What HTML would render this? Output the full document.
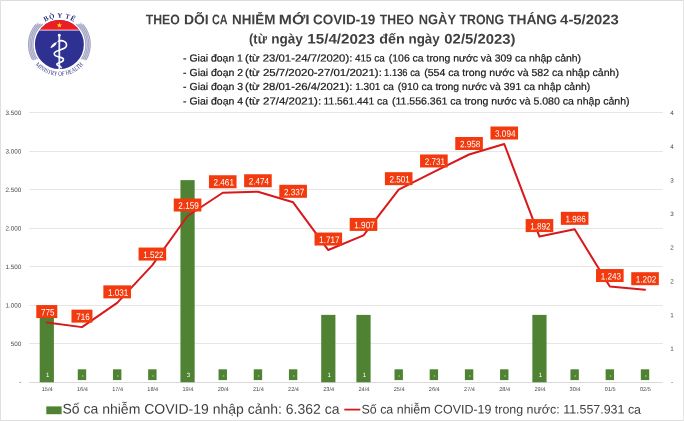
<!DOCTYPE html>
<html lang="vi"><head><meta charset="utf-8"><title>COVID-19</title>
<style>
html,body{margin:0;padding:0;background:#fff}
body{width:684px;height:421px;overflow:hidden}
svg{display:block;font-family:"Liberation Sans",sans-serif;text-rendering:geometricPrecision}
.t{font-weight:bold;fill:#404040;font-size:13.8px}
.s{fill:#1a1a1a;font-size:10.2px;stroke:#1a1a1a;stroke-width:0.22px}
.ax{fill:#4a4a4a;font-size:6.3px}
.cat{fill:#484848;font-size:5.6px;text-anchor:middle}
.dl{fill:#fff;font-size:9.3px}
.bl{fill:#fff;font-size:6.1px;text-anchor:middle}
.lg{fill:#404040}
.logo{font-family:"Liberation Serif",serif;fill:#2a2c7c;font-weight:bold}
</style></head><body>
<svg width="684" height="421" viewBox="0 0 684 421">
<rect x="0" y="0" width="684" height="421" fill="#fff"/>
<rect x="0" y="0" width="684" height="1" fill="#dcdcdc"/><rect x="0" y="420" width="684" height="1" fill="#dedede"/><rect x="0" y="0" width="1" height="421" fill="#e0e0e0"/><rect x="683" y="0" width="1" height="421" fill="#e6e6e6"/>

<g class="t">
<text x="145.69" y="24.3" textLength="34.13" lengthAdjust="spacingAndGlyphs" transform="rotate(0.05 145.69 24.3)">THEO</text>
<text x="184.02" y="24.3" textLength="24.69" lengthAdjust="spacingAndGlyphs" transform="rotate(0.05 184.02 24.3)">DÕI</text>
<text x="212.01" y="24.3" textLength="15.63" lengthAdjust="spacingAndGlyphs" transform="rotate(0.05 212.01 24.3)">CA</text>
<text x="232.05" y="24.3" textLength="43.29" lengthAdjust="spacingAndGlyphs" transform="rotate(0.05 232.05 24.3)">NHIỄM</text>
<text x="278.8" y="24.3" textLength="30.91" lengthAdjust="spacingAndGlyphs" transform="rotate(0.05 278.8 24.3)">MỚI</text>
<text x="313.09" y="24.3" textLength="62.22" lengthAdjust="spacingAndGlyphs" transform="rotate(0.05 313.09 24.3)">COVID-19</text>
<text x="379.79" y="24.3" textLength="34.13" lengthAdjust="spacingAndGlyphs" transform="rotate(0.05 379.79 24.3)">THEO</text>
<text x="418.68" y="24.3" textLength="37.36" lengthAdjust="spacingAndGlyphs" transform="rotate(0.05 418.68 24.3)">NGÀY</text>
<text x="459.49" y="24.3" textLength="44.65" lengthAdjust="spacingAndGlyphs" transform="rotate(0.05 459.49 24.3)">TRONG</text>
<text x="507.97" y="24.3" textLength="49.14" lengthAdjust="spacingAndGlyphs" transform="rotate(0.05 507.97 24.3)">THÁNG</text>
<text x="560.13" y="24.3" textLength="58.68" lengthAdjust="spacingAndGlyphs" transform="rotate(0.05 560.13 24.3)">4-5/2023</text>
</g>
<g class="t">
<text x="249.1" y="43.6" textLength="17.85" lengthAdjust="spacingAndGlyphs" transform="rotate(0.05 249.1 43.6)">(từ</text>
<text x="271.14" y="43.6" textLength="31.64" lengthAdjust="spacingAndGlyphs" transform="rotate(0.05 271.14 43.6)">ngày</text>
<text x="307.34" y="43.6" textLength="67.53" lengthAdjust="spacingAndGlyphs" transform="rotate(0.05 307.34 43.6)">15/4/2023</text>
<text x="379.35" y="43.6" textLength="25.49" lengthAdjust="spacingAndGlyphs" transform="rotate(0.05 379.35 43.6)">đến</text>
<text x="408.45" y="43.6" textLength="31.33" lengthAdjust="spacingAndGlyphs" transform="rotate(0.05 408.45 43.6)">ngày</text>
<text x="444.36" y="43.6" textLength="71.03" lengthAdjust="spacingAndGlyphs" transform="rotate(0.05 444.36 43.6)">02/5/2023)</text>
</g>
<g class="s">
<text x="183.09" y="61.4" textLength="59.85" lengthAdjust="spacingAndGlyphs" transform="rotate(0.05 183.09 61.4)">- Giai đoạn 1</text>
<text x="245.11" y="61.4" textLength="107.21" lengthAdjust="spacingAndGlyphs" transform="rotate(0.05 245.11 61.4)">(từ 23/01-24/7/2020):</text>
<text x="355.06" y="61.4" textLength="29.74" lengthAdjust="spacingAndGlyphs" transform="rotate(0.05 355.06 61.4)">415 ca</text>
<text x="388.86" y="61.4" textLength="192.21" lengthAdjust="spacingAndGlyphs" transform="rotate(0.05 388.86 61.4)">(106 ca trong nước và 309 ca nhập cảnh)</text>
<text x="183.09" y="75.9" textLength="60.05" lengthAdjust="spacingAndGlyphs" transform="rotate(0.05 183.09 75.9)">- Giai đoạn 2</text>
<text x="245.1" y="75.9" textLength="136.75" lengthAdjust="spacingAndGlyphs" transform="rotate(0.05 245.1 75.9)">(từ 25/7/2020-27/01/2021):</text>
<text x="384.11" y="75.9" textLength="35.99" lengthAdjust="spacingAndGlyphs" transform="rotate(0.05 384.11 75.9)">1.136 ca</text>
<text x="424.15" y="75.9" textLength="194.82" lengthAdjust="spacingAndGlyphs" transform="rotate(0.05 424.15 75.9)">(554 ca trong nước và 582 ca nhập cảnh)</text>
<text x="183.09" y="89.9" textLength="60.05" lengthAdjust="spacingAndGlyphs" transform="rotate(0.05 183.09 89.9)">- Giai đoạn 3</text>
<text x="245.11" y="89.9" textLength="107.21" lengthAdjust="spacingAndGlyphs" transform="rotate(0.05 245.11 89.9)">(từ 28/01-26/4/2021):</text>
<text x="355.16" y="89.9" textLength="38.64" lengthAdjust="spacingAndGlyphs" transform="rotate(0.05 355.16 89.9)">1.301 ca</text>
<text x="397.66" y="89.9" textLength="192.61" lengthAdjust="spacingAndGlyphs" transform="rotate(0.05 397.66 89.9)">(910 ca trong nước và 391 ca nhập cảnh)</text>
<text x="183.09" y="104.4" textLength="59.99" lengthAdjust="spacingAndGlyphs" transform="rotate(0.05 183.09 104.4)">- Giai đoạn 4</text>
<text x="245.1" y="104.4" textLength="76.03" lengthAdjust="spacingAndGlyphs" transform="rotate(0.05 245.1 104.4)">(từ 27/4/2021):</text>
<text x="323.44" y="104.4" textLength="64.58" lengthAdjust="spacingAndGlyphs" transform="rotate(0.05 323.44 104.4)">11.561.441 ca</text>
<text x="391.95" y="104.4" textLength="237.65" lengthAdjust="spacingAndGlyphs" transform="rotate(0.05 391.95 104.4)">(11.556.361 ca trong nước và 5.080 ca nhập cảnh)</text>
</g>
<line x1="29.2" x2="662.8" y1="112.50" y2="112.50" stroke="#e6e6e6" stroke-width="1"/>
<line x1="29.2" x2="662.8" y1="151.50" y2="151.50" stroke="#e6e6e6" stroke-width="1"/>
<line x1="29.2" x2="662.8" y1="189.50" y2="189.50" stroke="#e6e6e6" stroke-width="1"/>
<line x1="29.2" x2="662.8" y1="228.50" y2="228.50" stroke="#e6e6e6" stroke-width="1"/>
<line x1="29.2" x2="662.8" y1="266.50" y2="266.50" stroke="#e6e6e6" stroke-width="1"/>
<line x1="29.2" x2="662.8" y1="305.50" y2="305.50" stroke="#e6e6e6" stroke-width="1"/>
<line x1="29.2" x2="662.8" y1="343.50" y2="343.50" stroke="#e6e6e6" stroke-width="1"/>
<line x1="29.2" x2="662.8" y1="382.50" y2="382.50" stroke="#d9d9d9" stroke-width="1"/>
<text class="ax" x="21.3" y="115.05" text-anchor="end" transform="rotate(0.05 21.3 115.05)">3.500</text>
<text class="ax" x="21.3" y="153.55" text-anchor="end" transform="rotate(0.05 21.3 153.55)">3.000</text>
<text class="ax" x="21.3" y="192.05" text-anchor="end" transform="rotate(0.05 21.3 192.05)">2.500</text>
<text class="ax" x="21.3" y="230.55" text-anchor="end" transform="rotate(0.05 21.3 230.55)">2.000</text>
<text class="ax" x="21.3" y="269.05" text-anchor="end" transform="rotate(0.05 21.3 269.05)">1.500</text>
<text class="ax" x="21.3" y="307.55" text-anchor="end" transform="rotate(0.05 21.3 307.55)">1.000</text>
<text class="ax" x="21.3" y="346.05" text-anchor="end" transform="rotate(0.05 21.3 346.05)">500</text>
<text class="ax" x="21.3" y="384.55" text-anchor="end" transform="rotate(0.05 21.3 384.55)">-</text>
<text class="ax" x="672" y="115.05" text-anchor="middle" transform="rotate(0.05 672 115.05)">4</text>
<text class="ax" x="672" y="148.74" text-anchor="middle" transform="rotate(0.05 672 148.74)">4</text>
<text class="ax" x="672" y="182.43" text-anchor="middle" transform="rotate(0.05 672 182.43)">3</text>
<text class="ax" x="672" y="216.11" text-anchor="middle" transform="rotate(0.05 672 216.11)">3</text>
<text class="ax" x="672" y="249.80" text-anchor="middle" transform="rotate(0.05 672 249.80)">2</text>
<text class="ax" x="672" y="283.49" text-anchor="middle" transform="rotate(0.05 672 283.49)">2</text>
<text class="ax" x="672" y="317.18" text-anchor="middle" transform="rotate(0.05 672 317.18)">1</text>
<text class="ax" x="672" y="350.86" text-anchor="middle" transform="rotate(0.05 672 350.86)">1</text>
<text class="ax" x="672" y="384.55" text-anchor="middle" transform="rotate(0.05 672 384.55)">-</text>
<rect x="39.70" y="314.88" width="14.2" height="67.38" fill="#4f8232"/>
<text class="bl" x="47.70" y="377.1" transform="rotate(0.05 47.70 377.1)">1</text>
<rect x="77.78" y="369.3" width="8.4" height="10.8" fill="#4f8232"/>
<text class="bl" x="82.69" y="377.4" transform="rotate(0.05 82.69 377.4)">-</text>
<rect x="112.97" y="369.3" width="8.4" height="10.8" fill="#4f8232"/>
<text class="bl" x="117.88" y="377.4" transform="rotate(0.05 117.88 377.4)">-</text>
<rect x="148.16" y="369.3" width="8.4" height="10.8" fill="#4f8232"/>
<text class="bl" x="153.06" y="377.4" transform="rotate(0.05 153.06 377.4)">-</text>
<rect x="180.45" y="180.12" width="14.2" height="202.12" fill="#4f8232"/>
<text class="bl" x="188.45" y="377.1" transform="rotate(0.05 188.45 377.1)">3</text>
<rect x="218.54" y="369.3" width="8.4" height="10.8" fill="#4f8232"/>
<text class="bl" x="223.44" y="377.4" transform="rotate(0.05 223.44 377.4)">-</text>
<rect x="253.74" y="369.3" width="8.4" height="10.8" fill="#4f8232"/>
<text class="bl" x="258.63" y="377.4" transform="rotate(0.05 258.63 377.4)">-</text>
<rect x="288.92" y="369.3" width="8.4" height="10.8" fill="#4f8232"/>
<text class="bl" x="293.82" y="377.4" transform="rotate(0.05 293.82 377.4)">-</text>
<rect x="321.21" y="314.88" width="14.2" height="67.38" fill="#4f8232"/>
<text class="bl" x="329.21" y="377.1" transform="rotate(0.05 329.21 377.1)">1</text>
<rect x="356.40" y="314.88" width="14.2" height="67.38" fill="#4f8232"/>
<text class="bl" x="364.40" y="377.1" transform="rotate(0.05 364.40 377.1)">1</text>
<rect x="394.50" y="369.3" width="8.4" height="10.8" fill="#4f8232"/>
<text class="bl" x="399.39" y="377.4" transform="rotate(0.05 399.39 377.4)">-</text>
<rect x="429.68" y="369.3" width="8.4" height="10.8" fill="#4f8232"/>
<text class="bl" x="434.58" y="377.4" transform="rotate(0.05 434.58 377.4)">-</text>
<rect x="464.88" y="369.3" width="8.4" height="10.8" fill="#4f8232"/>
<text class="bl" x="469.77" y="377.4" transform="rotate(0.05 469.77 377.4)">-</text>
<rect x="500.06" y="369.3" width="8.4" height="10.8" fill="#4f8232"/>
<text class="bl" x="504.96" y="377.4" transform="rotate(0.05 504.96 377.4)">-</text>
<rect x="532.36" y="314.88" width="14.2" height="67.38" fill="#4f8232"/>
<text class="bl" x="540.36" y="377.1" transform="rotate(0.05 540.36 377.1)">1</text>
<rect x="570.44" y="369.3" width="8.4" height="10.8" fill="#4f8232"/>
<text class="bl" x="575.35" y="377.4" transform="rotate(0.05 575.35 377.4)">-</text>
<rect x="605.63" y="369.3" width="8.4" height="10.8" fill="#4f8232"/>
<text class="bl" x="610.54" y="377.4" transform="rotate(0.05 610.54 377.4)">-</text>
<rect x="640.82" y="369.3" width="8.4" height="10.8" fill="#4f8232"/>
<text class="bl" x="645.73" y="377.4" transform="rotate(0.05 645.73 377.4)">-</text>
<text class="cat" x="47.20" y="391" transform="rotate(0.05 47.20 391)">15/4</text>
<text class="cat" x="82.39" y="391" transform="rotate(0.05 82.39 391)">16/4</text>
<text class="cat" x="117.58" y="391" transform="rotate(0.05 117.58 391)">17/4</text>
<text class="cat" x="152.76" y="391" transform="rotate(0.05 152.76 391)">18/4</text>
<text class="cat" x="187.95" y="391" transform="rotate(0.05 187.95 391)">19/4</text>
<text class="cat" x="223.14" y="391" transform="rotate(0.05 223.14 391)">20/4</text>
<text class="cat" x="258.33" y="391" transform="rotate(0.05 258.33 391)">21/4</text>
<text class="cat" x="293.52" y="391" transform="rotate(0.05 293.52 391)">22/4</text>
<text class="cat" x="328.71" y="391" transform="rotate(0.05 328.71 391)">23/4</text>
<text class="cat" x="363.90" y="391" transform="rotate(0.05 363.90 391)">24/4</text>
<text class="cat" x="399.09" y="391" transform="rotate(0.05 399.09 391)">25/4</text>
<text class="cat" x="434.28" y="391" transform="rotate(0.05 434.28 391)">26/4</text>
<text class="cat" x="469.47" y="391" transform="rotate(0.05 469.47 391)">27/4</text>
<text class="cat" x="504.66" y="391" transform="rotate(0.05 504.66 391)">28/4</text>
<text class="cat" x="539.86" y="391" transform="rotate(0.05 539.86 391)">29/4</text>
<text class="cat" x="575.04" y="391" transform="rotate(0.05 575.04 391)">30/4</text>
<text class="cat" x="610.24" y="391" transform="rotate(0.05 610.24 391)">01/5</text>
<text class="cat" x="645.42" y="391" transform="rotate(0.05 645.42 391)">02/5</text>
<polyline points="46.80,322.57 81.98,327.12 117.17,302.86 152.36,265.06 187.55,216.01 222.74,192.75 257.94,191.75 293.12,202.30 328.31,250.04 363.50,235.41 398.69,189.67 433.88,171.96 469.07,154.48 504.26,144.01 539.46,236.57 574.64,229.33 609.84,286.54 645.02,289.70" fill="none" stroke="#d8181b" stroke-width="2" stroke-linejoin="round" stroke-linecap="round"/>
<rect x="36.30" y="305.07" width="21" height="13" fill="#f23a0e"/>
<text class="dl" x="41.09" y="315.43" textLength="13.4" lengthAdjust="spacingAndGlyphs" transform="rotate(0.05 41.09 315.43)">775</text>
<rect x="71.48" y="309.62" width="21" height="13" fill="#f23a0e"/>
<text class="dl" x="76.28" y="319.97" textLength="13.4" lengthAdjust="spacingAndGlyphs" transform="rotate(0.05 76.28 319.97)">716</text>
<rect x="103.38" y="285.36" width="27.6" height="13" fill="#f23a0e"/>
<text class="dl" x="107.97" y="295.71" textLength="20.4" lengthAdjust="spacingAndGlyphs" transform="rotate(0.05 107.97 295.71)">1.031</text>
<rect x="138.56" y="247.56" width="27.6" height="13" fill="#f23a0e"/>
<text class="dl" x="143.16" y="257.91" textLength="20.4" lengthAdjust="spacingAndGlyphs" transform="rotate(0.05 143.16 257.91)">1.522</text>
<rect x="173.75" y="198.51" width="27.6" height="13" fill="#f23a0e"/>
<text class="dl" x="178.35" y="208.86" textLength="20.4" lengthAdjust="spacingAndGlyphs" transform="rotate(0.05 178.35 208.86)">2.159</text>
<rect x="208.94" y="175.25" width="27.6" height="13" fill="#f23a0e"/>
<text class="dl" x="213.54" y="185.60" textLength="20.4" lengthAdjust="spacingAndGlyphs" transform="rotate(0.05 213.54 185.60)">2.461</text>
<rect x="244.13" y="174.25" width="27.6" height="13" fill="#f23a0e"/>
<text class="dl" x="248.74" y="184.60" textLength="20.4" lengthAdjust="spacingAndGlyphs" transform="rotate(0.05 248.74 184.60)">2.474</text>
<rect x="279.32" y="184.80" width="27.6" height="13" fill="#f23a0e"/>
<text class="dl" x="283.92" y="195.15" textLength="20.4" lengthAdjust="spacingAndGlyphs" transform="rotate(0.05 283.92 195.15)">2.337</text>
<rect x="314.51" y="232.54" width="27.6" height="13" fill="#f23a0e"/>
<text class="dl" x="319.12" y="242.89" textLength="20.4" lengthAdjust="spacingAndGlyphs" transform="rotate(0.05 319.12 242.89)">1.717</text>
<rect x="349.70" y="217.91" width="27.6" height="13" fill="#f23a0e"/>
<text class="dl" x="354.30" y="228.26" textLength="20.4" lengthAdjust="spacingAndGlyphs" transform="rotate(0.05 354.30 228.26)">1.907</text>
<rect x="384.89" y="172.17" width="27.6" height="13" fill="#f23a0e"/>
<text class="dl" x="389.50" y="182.52" textLength="20.4" lengthAdjust="spacingAndGlyphs" transform="rotate(0.05 389.50 182.52)">2.501</text>
<rect x="420.08" y="154.46" width="27.6" height="13" fill="#f23a0e"/>
<text class="dl" x="424.68" y="164.81" textLength="20.4" lengthAdjust="spacingAndGlyphs" transform="rotate(0.05 424.68 164.81)">2.731</text>
<rect x="455.27" y="136.98" width="27.6" height="13" fill="#f23a0e"/>
<text class="dl" x="459.88" y="147.33" textLength="20.4" lengthAdjust="spacingAndGlyphs" transform="rotate(0.05 459.88 147.33)">2.958</text>
<rect x="490.46" y="126.51" width="27.6" height="13" fill="#f23a0e"/>
<text class="dl" x="495.06" y="136.86" textLength="20.4" lengthAdjust="spacingAndGlyphs" transform="rotate(0.05 495.06 136.86)">3.094</text>
<rect x="525.66" y="219.07" width="27.6" height="13" fill="#f23a0e"/>
<text class="dl" x="530.25" y="229.42" textLength="20.4" lengthAdjust="spacingAndGlyphs" transform="rotate(0.05 530.25 229.42)">1.892</text>
<rect x="560.85" y="211.83" width="27.6" height="13" fill="#f23a0e"/>
<text class="dl" x="565.44" y="222.18" textLength="20.4" lengthAdjust="spacingAndGlyphs" transform="rotate(0.05 565.44 222.18)">1.986</text>
<rect x="596.04" y="269.04" width="27.6" height="13" fill="#f23a0e"/>
<text class="dl" x="600.63" y="279.39" textLength="20.4" lengthAdjust="spacingAndGlyphs" transform="rotate(0.05 600.63 279.39)">1.243</text>
<rect x="631.23" y="272.20" width="27.6" height="13" fill="#f23a0e"/>
<text class="dl" x="635.82" y="282.55" textLength="20.4" lengthAdjust="spacingAndGlyphs" transform="rotate(0.05 635.82 282.55)">1.202</text>
<rect x="46.3" y="406.4" width="15.3" height="7.8" fill="#4f8232"/>
<text class="lg" font-size="13.9" x="62.47" y="413.6" textLength="277.07" lengthAdjust="spacingAndGlyphs" transform="rotate(0.05 62.47 413.6)">Số ca nhiễm COVID-19 nhập cảnh: 6.362 ca</text>
<line x1="344.3" x2="360.3" y1="409.6" y2="409.6" stroke="#d8181b" stroke-width="1.8"/>
<text class="lg" font-size="12.45" x="361.48" y="413.4" textLength="279.57" lengthAdjust="spacingAndGlyphs" transform="rotate(0.05 361.48 413.4)">Số ca nhiễm COVID-19 trong nước: 11.557.931 ca</text>
<g id="logo"><defs><clipPath id="dc"><circle cx="59.4" cy="44.5" r="24.5"/></clipPath>
<path id="tp" d="M 32.599999999999994 44.5 A 26.8 26.8 0 0 1 86.2 44.5"/>
<path id="bp" d="M 28.099999999999998 44.5 A 31.3 31.3 0 0 0 90.7 44.5"/></defs>
<path d="M 39.50 23.89 A 28.65 28.65 0 0 0 35.10 59.68" fill="none" stroke="#d9d9e8" stroke-width="5"/>
<path d="M 79.30 23.89 A 28.65 28.65 0 0 1 83.70 59.68" fill="none" stroke="#d9d9e8" stroke-width="5"/>
<path d="M 42.79 23.98 A 26.4 26.4 0 0 0 37.51 59.26" fill="none" stroke="#a3a4c4" stroke-width="1.05"/>
<path d="M 76.01 23.98 A 26.4 26.4 0 0 1 81.29 59.26" fill="none" stroke="#a3a4c4" stroke-width="1.05"/>
<path d="M 40.55 23.93 A 27.9 27.9 0 0 0 35.87 59.49" fill="none" stroke="#a3a4c4" stroke-width="1.05"/>
<path d="M 78.25 23.93 A 27.9 27.9 0 0 1 82.93 59.49" fill="none" stroke="#a3a4c4" stroke-width="1.05"/>
<path d="M 38.25 24.08 A 29.4 29.4 0 0 0 34.20 59.64" fill="none" stroke="#a3a4c4" stroke-width="1.05"/>
<path d="M 80.55 24.08 A 29.4 29.4 0 0 1 84.60 59.64" fill="none" stroke="#a3a4c4" stroke-width="1.05"/>
<path d="M 35.90 24.43 A 30.9 30.9 0 0 0 32.51 59.72" fill="none" stroke="#a3a4c4" stroke-width="1.05"/>
<path d="M 82.90 24.43 A 30.9 30.9 0 0 1 86.29 59.72" fill="none" stroke="#a3a4c4" stroke-width="1.05"/>
<g clip-path="url(#dc)"><rect x="34.9" y="20.0" width="49.0" height="49.0" fill="#2e3192"/>
<rect x="34.9" y="20.0" width="49.0" height="10.0" fill="#ee1c25"/>
<rect x="34.9" y="29.7" width="49.0" height="0.8" fill="#fff"/></g>
<polygon points="59.40,22.60 60.05,24.41 61.97,24.47 60.45,25.64 60.99,27.48 59.40,26.40 57.81,27.48 58.35,25.64 56.83,24.47 58.75,24.41" fill="#fff200"/>
<g fill="none" stroke="#fff" stroke-linecap="round"><line x1="59.3" y1="35" x2="59.3" y2="68.6" stroke-width="1.8" stroke="#ededfb"/>
<circle cx="59.3" cy="35.2" r="1.35" fill="#fff" stroke="none"/>
<path d="M 58.199999999999996 41.4 C 62.4 39.3 67.4 42 66.4 46 C 65.4 50.3 54.199999999999996 49.8 54.199999999999996 53.8 C 54.199999999999996 58 63.699999999999996 56.3 63.5 59.6 C 63.3 63.2 56.6 62.2 56.8 64.3 C 57.0 66 60.4 65.8 61.199999999999996 67.4" stroke-width="1.55"/></g>
<path d="M 50.3 48.2 C 51.4 45 54 42.6 56.8 42.1 C 56.6 45.2 53.8 47.2 50.3 48.2 Z" fill="#fff"/>
<text class="logo" font-size="6.9"><textPath href="#tp" startOffset="50%" text-anchor="middle" textLength="30.3" lengthAdjust="spacing">BỘ Y TẾ</textPath></text>
<text class="logo" font-size="6.3" style="font-weight:normal;fill:#33358a"><textPath href="#bp" startOffset="50%" text-anchor="middle" textLength="54.5" lengthAdjust="spacingAndGlyphs">MINISTRY OF HEALTH</textPath></text>
</g>
</svg></body></html>
